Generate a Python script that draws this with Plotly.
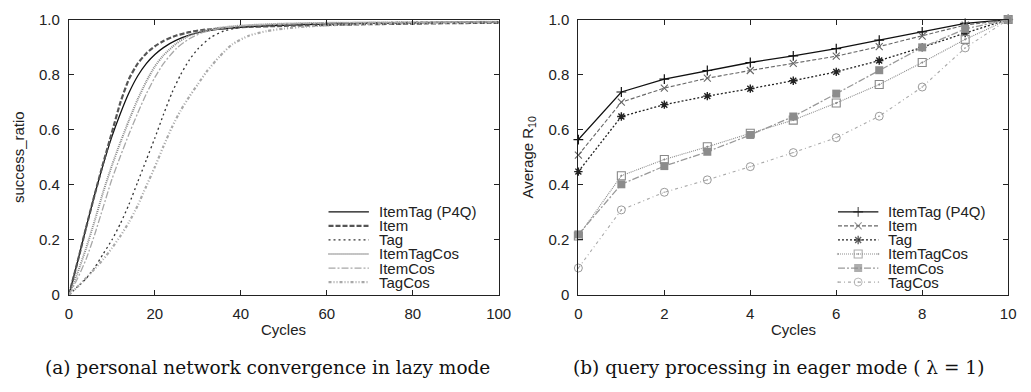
import plotly.graph_objects as go

W, H = 1031, 392

# ---------------- Data: (a) personal network convergence in lazy mode ----------------
series_a = ["ItemTag (P4Q)", "Item", "Tag", "ItemTagCos", "ItemCos", "TagCos"]

itemtag_a_x = [0, 2, 4, 6, 8, 10, 12, 14, 16, 18, 20, 22, 25, 28, 31, 35, 40, 50, 60, 70, 80, 90, 100]
itemtag_a_y = [0.0, 0.12, 0.245, 0.365, 0.475, 0.575, 0.66, 0.735, 0.795, 0.84, 0.873, 0.898, 0.925,
               0.943, 0.955, 0.965, 0.972, 0.979, 0.983, 0.986, 0.988, 0.99, 0.991]

item_a_x = [0, 2, 4, 6, 8, 10, 12, 14, 16, 18, 20, 22, 25, 28, 31, 35, 40, 50, 60, 70, 80, 90, 100]
item_a_y = [0.0, 0.12, 0.245, 0.365, 0.48, 0.59, 0.70, 0.785, 0.84, 0.877, 0.903, 0.922, 0.942,
            0.954, 0.962, 0.967, 0.972, 0.977, 0.98, 0.983, 0.985, 0.987, 0.988]

tag_a_x = [0, 2, 4, 6, 8, 10, 12, 14, 16, 18, 20, 22, 24, 26, 28, 30, 33, 36, 40, 50, 60, 80, 100]
tag_a_y = [0.0, 0.03, 0.06, 0.10, 0.15, 0.20, 0.26, 0.33, 0.41, 0.49, 0.57, 0.655, 0.735, 0.80,
           0.853, 0.893, 0.935, 0.958, 0.972, 0.982, 0.986, 0.99, 0.992]

itemtagcos_a_x = [0, 2, 4, 6, 8, 10, 12, 14, 16, 18, 20, 22, 25, 28, 31, 35, 40, 50, 60, 80, 100]
itemtagcos_a_y = [0.0, 0.08, 0.17, 0.27, 0.375, 0.47, 0.555, 0.635, 0.71, 0.775, 0.83, 0.87, 0.913,
                  0.942, 0.958, 0.97, 0.978, 0.985, 0.988, 0.99, 0.992]

itemcos_a_x = [0, 2, 4, 6, 8, 10, 12, 14, 16, 18, 20, 22, 25, 28, 31, 35, 40, 50, 60, 80, 100]
itemcos_a_y = [0.0, 0.06, 0.13, 0.22, 0.32, 0.42, 0.505, 0.585, 0.66, 0.73, 0.79, 0.84, 0.895,
               0.93, 0.952, 0.967, 0.977, 0.984, 0.988, 0.99, 0.992]

tagcos_a_x = [0, 2, 4, 6, 8, 10, 12, 14, 16, 18, 20, 22, 24, 26, 28, 30, 32, 35, 38, 42, 46,
              50, 55, 60, 70, 80, 90, 100]
tagcos_a_y = [0.0, 0.03, 0.062, 0.095, 0.13, 0.17, 0.215, 0.265, 0.325, 0.395, 0.465, 0.54, 0.61,
              0.67, 0.72, 0.765, 0.81, 0.865, 0.91, 0.942, 0.958, 0.967, 0.974, 0.979, 0.984,
              0.987, 0.989, 0.99]

# ---------------- Data: (b) query processing in eager mode ----------------
cycles_b = [0, 1, 2, 3, 4, 5, 6, 7, 8, 9, 10]
itemtag_b = [0.564, 0.737, 0.784, 0.815, 0.844, 0.868, 0.894, 0.925, 0.955, 0.986, 1.0]
item_b = [0.508, 0.700, 0.751, 0.787, 0.815, 0.841, 0.867, 0.902, 0.940, 0.980, 1.0]
tag_b = [0.448, 0.648, 0.691, 0.722, 0.749, 0.778, 0.810, 0.851, 0.899, 0.951, 1.0]
itemtagcos_b = [0.214, 0.433, 0.492, 0.538, 0.587, 0.635, 0.697, 0.764, 0.844, 0.928, 1.0]
itemcos_b = [0.220, 0.402, 0.468, 0.520, 0.581, 0.648, 0.731, 0.816, 0.899, 0.966, 1.0]
tagcos_b = [0.098, 0.309, 0.373, 0.418, 0.466, 0.517, 0.571, 0.649, 0.755, 0.897, 1.0]

x_ticks_a = [0, 20, 40, 60, 80, 100]
x_ticks_b = [0, 2, 4, 6, 8, 10]
y_ticks = [0, 0.2, 0.4, 0.6, 0.8, 1.0]
y_tick_text = ["0", "0.2", "0.4", "0.6", "0.8", "1.0"]

# ---------------- Styles ----------------
styles_a = [
    dict(color="#111111", width=1.3, dash="solid"),
    dict(color="#555555", width=2.2, dash="5px,2px"),
    dict(color="#333333", width=1.3, dash="2px,3px"),
    dict(color="#8a8a8a", width=2.0, dash="1px,1px"),
    dict(color="#a8a8a8", width=1.3, dash="7px,2px,2px,2px"),
    dict(color="#a8a8a8", width=2.2, dash="3px,2px,1px,2px,1px,2px"),
]
styles_b = [
    dict(color="#111111", width=1.3, dash="solid"),
    dict(color="#666666", width=1.1, dash="4px,2px"),
    dict(color="#222222", width=1.3, dash="2px,2px"),
    dict(color="#8a8a8a", width=1.1, dash="1px,1px"),
    dict(color="#999999", width=1.3, dash="7px,2px,2px,2px"),
    dict(color="#aaaaaa", width=1.1, dash="3px,3px,1px,3px"),
]
markers_b = [
    dict(symbol="cross-thin-open", size=7, color="#111111", line=dict(width=1.2, color="#111111")),
    dict(symbol="x-thin-open", size=7, color="#666666", line=dict(width=1.1, color="#666666")),
    dict(symbol="asterisk-open", size=7, color="#222222", line=dict(width=1.4, color="#222222")),
    dict(symbol="square-open-dot", size=8, color="#888888", line=dict(width=1.1, color="#888888")),
    dict(symbol="square", size=8, color="#8c8c8c", line=dict(width=0, color="#8c8c8c")),
    dict(symbol="circle-open-dot", size=8, color="#9a9a9a", line=dict(width=1.0, color="#9a9a9a")),
]

FONT = "Liberation Sans, Arial, sans-serif"
FS = 15
TXT = "#222222"

fig = go.Figure()

data_a = [(itemtag_a_x, itemtag_a_y), (item_a_x, item_a_y), (tag_a_x, tag_a_y),
          (itemtagcos_a_x, itemtagcos_a_y), (itemcos_a_x, itemcos_a_y), (tagcos_a_x, tagcos_a_y)]
data_b = [itemtag_b, item_b, tag_b, itemtagcos_b, itemcos_b, tagcos_b]

for name, (xs, ys), st in zip(series_a, data_a, styles_a):
    fig.add_trace(go.Scatter(x=xs, y=ys, mode="lines", name=name, showlegend=False,
                             line=dict(color=st["color"], width=st["width"], dash=st["dash"],
                                       shape="spline", smoothing=0.6),
                             xaxis="x", yaxis="y"))

for name, ys, st, mk in zip(series_a, data_b, styles_b, markers_b):
    fig.add_trace(go.Scatter(x=cycles_b, y=ys, mode="lines+markers", name=name, showlegend=False,
                             line=dict(color=st["color"], width=st["width"], dash=st["dash"]),
                             marker=mk, cliponaxis=False, xaxis="x2", yaxis="y2"))

# ---------------- Custom legends (drawn on hidden overlay axes with [0,1] range) ----------------
LEG_X0, LEG_X1, LEG_TX = 0.604, 0.698, 0.7185
LEG_Y0, LEG_DY = 0.302, 0.051
annotations = []
for i, name in enumerate(series_a):
    yy = LEG_Y0 - i * LEG_DY
    st = styles_a[i]
    fig.add_trace(go.Scatter(x=[LEG_X0, LEG_X1], y=[yy, yy], mode="lines", showlegend=False,
                             hoverinfo="skip",
                             line=dict(color=st["color"], width=st["width"], dash=st["dash"]),
                             xaxis="x3", yaxis="y3"))
    st = styles_b[i]
    mk = dict(markers_b[i])
    mk["size"] = [0, mk["size"], 0]
    fig.add_trace(go.Scatter(x=[LEG_X0, (LEG_X0 + LEG_X1) / 2, LEG_X1], y=[yy, yy, yy],
                             mode="lines+markers", showlegend=False, hoverinfo="skip",
                             line=dict(color=st["color"], width=st["width"], dash=st["dash"]),
                             marker=mk, xaxis="x4", yaxis="y4"))
    for xr, yr in (("x3", "y3"), ("x4", "y4")):
        annotations.append(dict(x=LEG_TX, y=yy, xref=xr, yref=yr, text=name, showarrow=False,
                                xanchor="left", yanchor="middle", borderpad=0,
                                font=dict(family=FONT, size=FS, color=TXT)))

# ---------------- Layout ----------------
dom_a = [66 / W, 503 / W]
dom_b = [584 / W, 1021 / W]
dom_y = [1 - 299 / H, 1 - 11 / H]

axis_common = dict(showline=True, linecolor="#222222", linewidth=1.2, mirror="ticks",
                   ticks="inside", ticklen=5, tickwidth=1, tickcolor="#222222",
                   showgrid=False, zeroline=False,
                   tickfont=dict(family=FONT, size=FS, color=TXT))

hidden = dict(range=[0, 1], visible=False, showgrid=False, zeroline=False, fixedrange=True)

fig.update_layout(
    width=W, height=H,
    margin=dict(l=0, r=0, t=0, b=0),
    paper_bgcolor="white", plot_bgcolor="white",
    showlegend=False,
    xaxis=dict(domain=dom_a, anchor="y", range=[0, 100], tickvals=x_ticks_a,
               ticklabelstandoff=5, **axis_common),
    yaxis=dict(domain=dom_y, anchor="x", range=[0, 1], tickvals=y_ticks, ticktext=y_tick_text,
               ticklabelstandoff=5, **axis_common),
    xaxis2=dict(domain=dom_b, anchor="y2", range=[0, 10], tickvals=x_ticks_b,
                ticklabelstandoff=5, **axis_common),
    yaxis2=dict(domain=dom_y, anchor="x2", range=[0, 1], tickvals=y_ticks, ticktext=y_tick_text,
                ticklabelstandoff=5, **axis_common),
    xaxis3=dict(overlaying="x", anchor="y3", **hidden),
    yaxis3=dict(overlaying="y", anchor="x3", **hidden),
    xaxis4=dict(overlaying="x2", anchor="y4", **hidden),
    yaxis4=dict(overlaying="y2", anchor="x4", **hidden),
)

# Axis titles and captions
annotations += [
    dict(x=15 / W, y=1 - 155 / H, xref="paper", yref="paper", text="success_ratio",
         textangle=-90, showarrow=False, xanchor="center", yanchor="middle",
         font=dict(family=FONT, size=FS, color=TXT)),
    dict(x=533 / W, y=1 - 155 / H, xref="paper", yref="paper", text="Average R<sub>10</sub>",
         textangle=-90, showarrow=False, xanchor="center", yanchor="middle",
         font=dict(family=FONT, size=FS, color=TXT)),
    dict(x=284.5 / W, y=1 - 335 / H, xref="paper", yref="paper", text="Cycles",
         showarrow=False, xanchor="center", yanchor="middle",
         font=dict(family=FONT, size=FS, color=TXT)),
    dict(x=802.5 / W, y=1 - 335 / H, xref="paper", yref="paper", text="Cycles",
         showarrow=False, xanchor="center", yanchor="middle",
         font=dict(family=FONT, size=FS, color=TXT)),
    dict(x=268 / W, y=1 - 375 / H, xref="paper", yref="paper",
         text="(a) personal network convergence in lazy mode",
         showarrow=False, xanchor="center", yanchor="middle",
         font=dict(family="DejaVu Serif, serif", size=18.5, color="#111111")),
    dict(x=787 / W, y=1 - 375 / H, xref="paper", yref="paper",
         text="(b) query processing in eager mode ( λ = 1)",
         showarrow=False, xanchor="center", yanchor="middle",
         font=dict(family="DejaVu Serif, serif", size=18.5, color="#111111")),
]
fig.update_layout(annotations=annotations)

fig.write_html("out.html")
